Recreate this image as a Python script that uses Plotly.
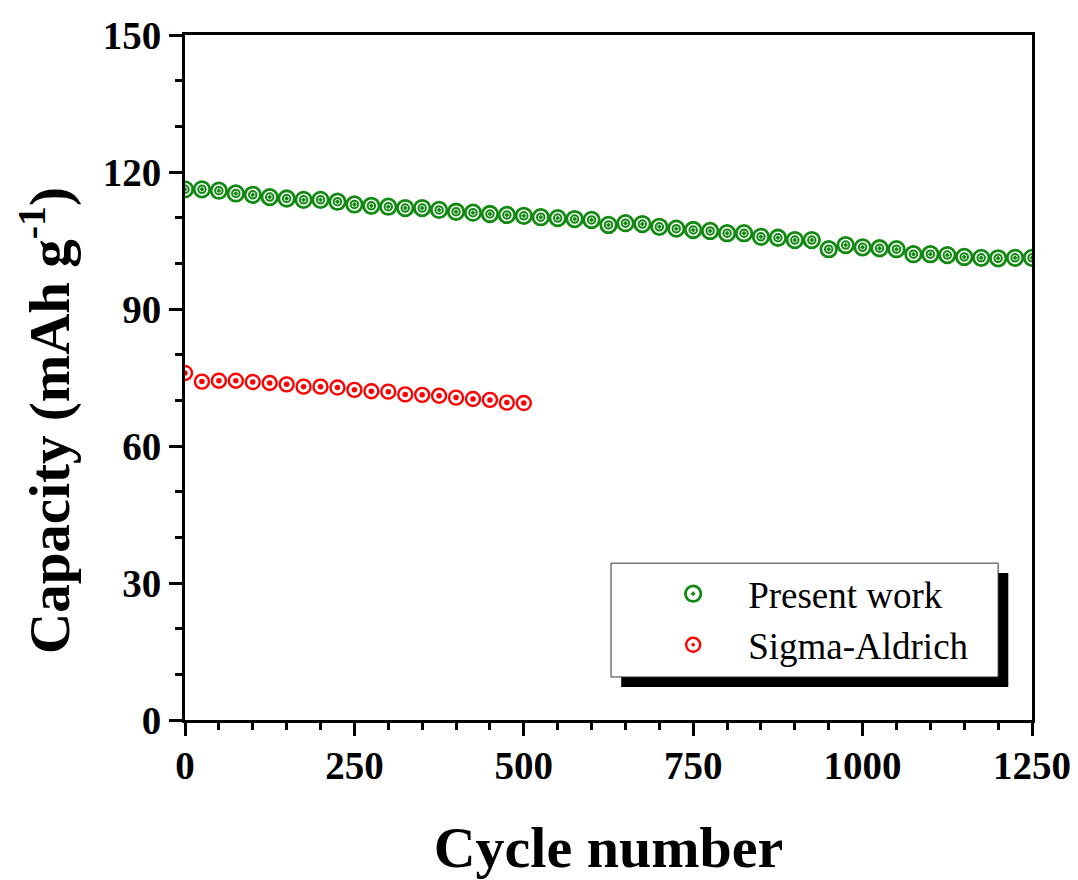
import plotly.graph_objects as go

cycles_present = list(range(0, 1251, 25))
cap_present = [116.2, 116.2, 115.9, 115.3, 115.0, 114.5, 114.2, 113.9, 113.9, 113.5,
               112.9, 112.6, 112.4, 112.1, 112.1, 111.7, 111.3, 111.1, 110.8, 110.6,
               110.4, 110.1, 109.9, 109.7,
               109.5, 108.4, 108.8, 108.6, 108.0, 107.6, 107.3, 107.1, 106.6, 106.6,
               105.8, 105.6, 105.1, 105.1, 103.1, 104.0, 103.5, 103.3, 103.1, 102.0,
               102.0, 101.8, 101.4, 101.2, 101.1, 101.2, 101.2]

cycles_sigma = list(range(0, 501, 25))
cap_sigma = [76.0, 74.1, 74.3, 74.3, 74.0, 73.8, 73.5, 73.0, 73.0, 72.8, 72.3,
             72.0, 71.9, 71.3, 71.2, 71.0, 70.6, 70.3, 70.1, 69.5, 69.4]

x_ticks = [0, 250, 500, 750, 1000, 1250]
y_ticks = [0, 30, 60, 90, 120, 150]

GREEN = "#128a12"
RED = "#ff0000"
FONT = "Liberation Serif"

fig = go.Figure()

# Present work: concentric rings + centre dot
fig.add_trace(go.Scatter(x=cycles_present, y=cap_present, mode="markers",
                         name="Present work", legendgroup="pw",
                         marker=dict(symbol="circle-open-dot", size=15.5, color=GREEN,
                                     line=dict(width=2.8, color=GREEN))))
fig.add_trace(go.Scatter(x=cycles_present, y=cap_present, mode="markers",
                         showlegend=False, legendgroup="pw", hoverinfo="skip",
                         marker=dict(symbol="circle-open", size=7.5, color=GREEN,
                                     line=dict(width=2, color=GREEN))))

# Sigma-Aldrich: ring + filled centre dot
fig.add_trace(go.Scatter(x=cycles_sigma, y=cap_sigma, mode="markers",
                         name="Sigma-Aldrich", legendgroup="sa",
                         marker=dict(symbol="circle-open-dot", size=14, color=RED,
                                     line=dict(width=2.4, color=RED))))
fig.add_trace(go.Scatter(x=cycles_sigma, y=cap_sigma, mode="markers",
                         showlegend=False, legendgroup="sa", hoverinfo="skip",
                         marker=dict(symbol="circle", size=5.5, color=RED,
                                     line=dict(width=0))))

axis_common = dict(
    showline=True, linecolor="black", linewidth=3, mirror=True,
    ticks="outside", ticklen=13, tickwidth=3, tickcolor="black",
    showgrid=False, zeroline=False, automargin=False,
    tickfont=dict(family=FONT, size=39, color="black", weight="bold"),
)

fig.update_layout(
    width=1078, height=880,
    paper_bgcolor="white", plot_bgcolor="white",
    margin=dict(l=177, r=54, t=27, b=168),
    xaxis=dict(range=[0, 1250], tickvals=x_ticks,
               minor=dict(dtick=50, ticklen=7, tickwidth=3, tickcolor="black", ticks="outside"),
               ticklabelstandoff=-4,
               title=dict(text="Cycle number", standoff=41,
                          font=dict(family=FONT, size=58, color="black", weight="bold")),
               **axis_common),
    yaxis=dict(range=[0, 150], tickvals=y_ticks,
               minor=dict(dtick=10, ticklen=7, tickwidth=3, tickcolor="black", ticks="outside"),
               **axis_common),
    legend=dict(x=0.535, y=0.229, xanchor="left", yanchor="top",
                bgcolor="rgba(0,0,0,0)", borderwidth=0,
                font=dict(family=FONT, size=37, color="black"),
                itemwidth=100, tracegroupgap=0),
    annotations=[
        dict(text="Capacity (mAh g<sup>-1</sup>)", textangle=-90,
             xref="paper", yref="paper", x=-0.1641, y=0.4365,
             xanchor="center", yanchor="middle", showarrow=False,
             font=dict(family=FONT, size=57, color="black", weight="bold")),
    ],
    shapes=[
        dict(type="rect", xref="paper", yref="paper", x0=0.515, x1=0.972, y0=0.048, y1=0.2146,
             fillcolor="black", line=dict(width=0), layer="above"),
        dict(type="rect", xref="paper", yref="paper", x0=0.503, x1=0.960, y0=0.0628, y1=0.229,
             fillcolor="white", line=dict(width=1, color="#333333"), layer="above"),
    ],
)

fig.write_html("out.html")
